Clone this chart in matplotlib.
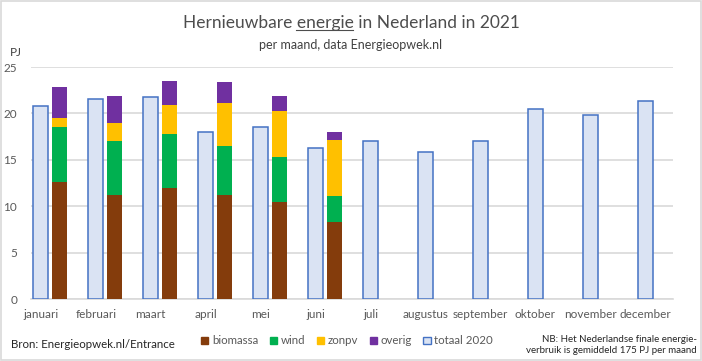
import numpy as np
import matplotlib.pyplot as plt
from matplotlib.patches import Patch, Rectangle
from matplotlib.lines import Line2D

plt.rcParams['font.family'] = ['Lato', 'DejaVu Sans']

months = ['januari', 'februari', 'maart', 'april', 'mei', 'juni', 'juli',
          'augustus', 'september', 'oktober', 'november', 'december']
biomassa = [12.6, 11.2, 12.0, 11.2, 10.45, 8.3]
wind = [5.9, 5.8, 5.8, 5.3, 4.85, 2.8]
zonpv = [1.0, 2.0, 3.1, 4.6, 4.95, 6.05]
overig = [3.35, 2.9, 2.6, 2.3, 1.65, 0.85]
totaal_2020 = [20.8, 21.5, 21.75, 17.95, 18.5, 16.25, 17.0, 15.8, 17.0, 20.45, 19.8, 21.3]

grey_txt = '#595959'
grid_col = '#d9d9d9'

fig = plt.figure(figsize=(7.02, 3.61), dpi=100)
ax = fig.add_axes([31 / 702, 62 / 361, 641.7 / 702, 232 / 361])

x = np.arange(len(months))
ax.bar(x, totaal_2020, width=0.27, color='#dae3f3', edgecolor='#4472c4',
       linewidth=1.1, label='totaal 2020', zorder=3)

xs = x[:len(biomassa)] + 0.34
bottom = np.zeros(len(biomassa))
series = [('biomassa', biomassa, '#843c0c'), ('wind', wind, '#00b050'),
          ('zonpv', zonpv, '#ffc000'), ('overig', overig, '#7030a0')]
for name, vals, col in series:
    ax.bar(xs, vals, width=0.27, bottom=bottom, color=col, label=name, zorder=3)
    bottom += np.array(vals)

ax.set_xlim(-0.18, 11.5)
ax.set_ylim(0, 25)
ax.set_yticks([0, 5, 10, 15, 20, 25])
ax.set_xticks(x)
ax.set_xticklabels(months)
ax.tick_params(axis='both', length=0, colors=grey_txt, labelsize=8.5)
ax.tick_params(axis='x', pad=7)
ax.tick_params(axis='y', pad=10)
ax.yaxis.grid(True, color=grid_col, linewidth=1.2, zorder=0)
for s in ['top', 'right', 'left']:
    ax.spines[s].set_visible(False)
ax.spines['bottom'].set_color(grid_col)
ax.spines['bottom'].set_linewidth(1.2)

fig.text(16 / 702, 1 - 53 / 361, 'PJ', ha='center', va='center', fontsize=8.5, color='#404040')

fs_title = 12.5
title_txt = 'Hernieuwbare energie in Nederland in 2021'
title = fig.text(0.5, 1 - 23 / 361, title_txt, ha='center', va='center',
                 fontsize=fs_title, color='#4d4d4d')
fig.text(0.5, 1 - 45 / 361, 'per maand, data Energieopwek.nl', ha='center', va='center',
         fontsize=9, color='#404040')

fig.text(11 / 702, 1 - 344 / 361, 'Bron: Energieopwek.nl/Entrance', ha='left', va='center',
         fontsize=8.3, color='#262626')
fig.text(697 / 702, 1 - 345 / 361,
         'NB: Het Nederlandse finale energie-\nverbruik is gemiddeld 175 PJ per maand',
         ha='right', va='center', fontsize=7, color='#262626', linespacing=1.35)

handles = [Patch(facecolor=c, edgecolor=c) for _, _, c in series]
handles.append(Patch(facecolor='#dae3f3', edgecolor='#4472c4', linewidth=1))
labels = [n for n, _, _ in series] + ['totaal 2020']
fig.legend(handles, labels, loc='center', bbox_to_anchor=(347 / 702, 1 - 341 / 361),
           ncol=5, frameon=False, fontsize=8.3, labelcolor=grey_txt,
           handlelength=0.65, handleheight=0.65, handletextpad=0.3, columnspacing=1.0)

fig.patches.append(Rectangle((0.002, 0.003), 0.996, 0.994, transform=fig.transFigure,
                             fill=False, edgecolor=grid_col, linewidth=1.2))

# underline the word "energie" in the title
fig.canvas.draw()
r = fig.canvas.get_renderer()
full = title.get_window_extent(r)
tmp = fig.text(0, 0, 'Hernieuwbare energie', fontsize=fs_title)
w_prefix = tmp.get_window_extent(r).width
tmp.remove()
tmp = fig.text(0, 0, 'energie', fontsize=fs_title)
w_word = tmp.get_window_extent(r).width
tmp.remove()
x1 = full.x0 + w_prefix
x0 = x1 - w_word
yl = full.y0 + 1.5
fig.add_artist(Line2D([x0 / fig.bbox.width, x1 / fig.bbox.width],
                      [yl / fig.bbox.height] * 2, transform=fig.transFigure,
                      color='#4d4d4d', linewidth=0.8))

fig.savefig('out.png', dpi=100)
